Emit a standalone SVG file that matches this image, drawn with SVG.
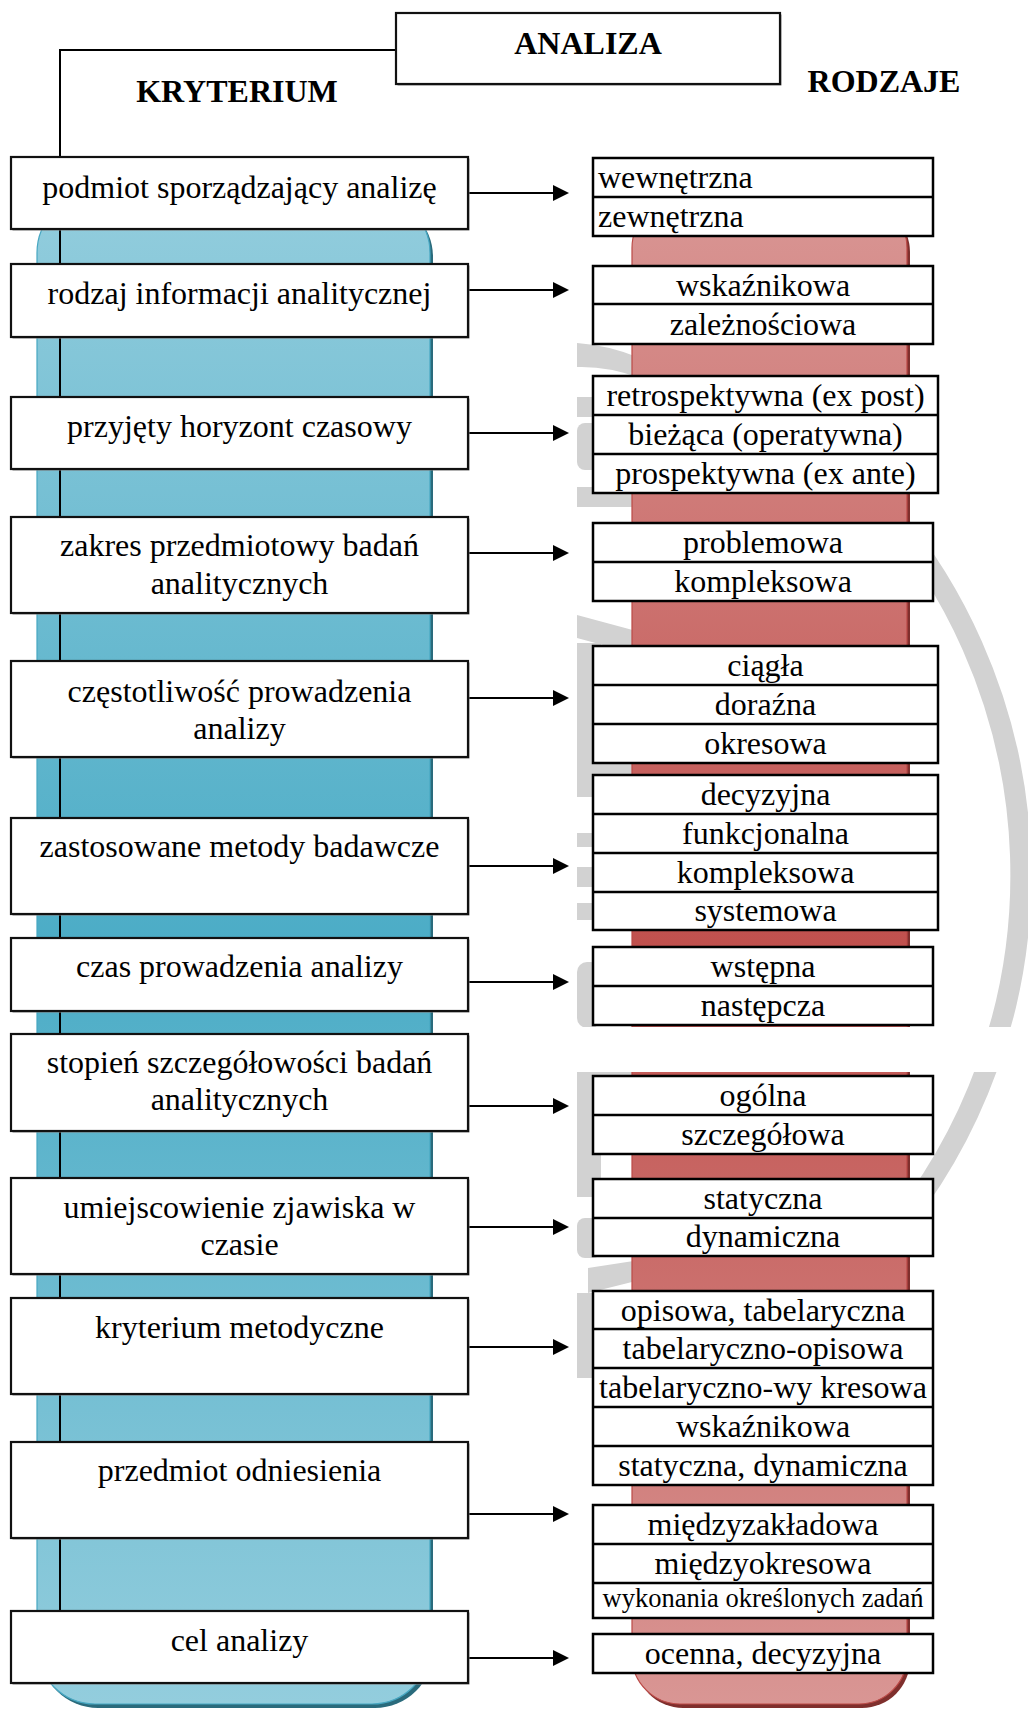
<svg xmlns="http://www.w3.org/2000/svg" width="1028" height="1711" viewBox="0 0 1028 1711">
<style>
.t{font-family:"Liberation Serif","Times New Roman",serif;font-size:32px;fill:#000}
.c{text-anchor:middle}
.b{font-weight:bold}
.lb{fill:#fff;stroke:#111;stroke-width:2.2}
.sh{fill:#8a8a8a}
.rb{fill:#fff;stroke:#000;stroke-width:2.5}
.dv{stroke:#000;stroke-width:2.5}
.wm{fill:#d2d2d2}
.cn{fill:none;stroke:#000;stroke-width:2}
</style>
<defs>
<linearGradient id="gb" x1="0" y1="0" x2="0" y2="1">
<stop offset="0" stop-color="#93cddd"/>
<stop offset="0.5" stop-color="#4bacc6"/>
<stop offset="1" stop-color="#93cddd"/>
</linearGradient>
<linearGradient id="gr" x1="0" y1="0" x2="0" y2="1">
<stop offset="0" stop-color="#d99694"/>
<stop offset="0.5" stop-color="#c0504d"/>
<stop offset="1" stop-color="#d99694"/>
</linearGradient>
<marker id="ah" markerUnits="userSpaceOnUse" markerWidth="16" markerHeight="16" refX="7" refY="8" orient="auto">
<path d="M0,0 L16,8 L0,16 Z" fill="#000"/>
</marker>
</defs>

<g id="watermark">
<path d="M860 480 A565 565 0 0 1 887 1240" fill="none" stroke="#d2d2d2" stroke-width="21"/>
<path class="wm" d="M577 343 Q608 345 640 358 L640 378 Q608 366 577 367 Z"/>
<rect class="wm" x="577" y="397" width="24" height="20"/>
<rect class="wm" x="577" y="423" width="24" height="47" rx="8"/>
<rect class="wm" x="577" y="487" width="63" height="20"/>
<path class="wm" d="M577 615 L640 632 L640 655 L577 638 Z"/>
<rect class="wm" x="577" y="643" width="24" height="150"/>
<rect class="wm" x="577" y="763" width="63" height="34"/>
<rect class="wm" x="577" y="833" width="24" height="14"/>
<rect class="wm" x="577" y="867" width="24" height="20"/>
<rect class="wm" x="577" y="903" width="24" height="17"/>
<rect class="wm" x="577" y="962" width="24" height="66" rx="10"/>
<rect class="wm" x="577" y="1070" width="63" height="12"/>
<rect class="wm" x="577" y="1082" width="24" height="115"/>
<rect class="wm" x="577" y="1218" width="24" height="40" rx="8"/>
<path class="wm" d="M588 1268 L640 1260 L640 1280 L588 1293 Z"/>
<rect class="wm" x="577" y="1293" width="24" height="85"/>
</g>

<g id="bars">
<rect x="40" y="199" width="393" height="1509" rx="58" fill="#2a6b7c"/>
<rect x="37" y="195" width="393" height="1509" rx="58" fill="url(#gb)" stroke="#47a7c2" stroke-width="1.2"/>
<rect x="635" y="204" width="275" height="1504" rx="48" fill="#7f2f2d"/>
<rect x="632" y="200" width="275" height="1504" rx="48" fill="url(#gr)" stroke="#bb4a47" stroke-width="1.2"/>
<rect x="572" y="1027" width="456" height="45" fill="#fff"/>
</g>

<g id="connectors">
<path class="cn" d="M396 50 H60 V1611"/>
<line class="cn" x1="468" y1="193" x2="560" y2="193" marker-end="url(#ah)"/>
<line class="cn" x1="468" y1="290" x2="560" y2="290" marker-end="url(#ah)"/>
<line class="cn" x1="468" y1="433" x2="560" y2="433" marker-end="url(#ah)"/>
<line class="cn" x1="468" y1="553" x2="560" y2="553" marker-end="url(#ah)"/>
<line class="cn" x1="468" y1="698" x2="560" y2="698" marker-end="url(#ah)"/>
<line class="cn" x1="468" y1="866" x2="560" y2="866" marker-end="url(#ah)"/>
<line class="cn" x1="468" y1="982" x2="560" y2="982" marker-end="url(#ah)"/>
<line class="cn" x1="468" y1="1106" x2="560" y2="1106" marker-end="url(#ah)"/>
<line class="cn" x1="468" y1="1227" x2="560" y2="1227" marker-end="url(#ah)"/>
<line class="cn" x1="468" y1="1347" x2="560" y2="1347" marker-end="url(#ah)"/>
<line class="cn" x1="468" y1="1514" x2="560" y2="1514" marker-end="url(#ah)"/>
<line class="cn" x1="468" y1="1658" x2="560" y2="1658" marker-end="url(#ah)"/>
</g>

<g id="title">
<rect class="sh" x="397.5" y="14.5" width="384" height="71"/>
<rect class="lb" x="396" y="13" width="384" height="71"/>
<text class="t b c" x="588" y="54">ANALIZA</text>
</g>
<g id="head-kryterium"><text class="t b c" x="237" y="102">KRYTERIUM</text></g>
<g id="head-rodzaje"><text class="t b c" x="884" y="92">RODZAJE</text></g>

<g id="k1"><rect class="sh" x="12.5" y="158.5" width="457" height="72"/><rect class="lb" x="11" y="157" width="457" height="72"/><text class="t c" x="239.5" y="198">podmiot sporządzający analizę</text></g>
<g id="k2"><rect class="sh" x="12.5" y="265.5" width="457" height="73"/><rect class="lb" x="11" y="264" width="457" height="73"/><text class="t c" x="239.5" y="304">rodzaj informacji analitycznej</text></g>
<g id="k3"><rect class="sh" x="12.5" y="398.5" width="457" height="72"/><rect class="lb" x="11" y="397" width="457" height="72"/><text class="t c" x="239.5" y="437">przyjęty horyzont czasowy</text></g>
<g id="k4"><rect class="sh" x="12.5" y="518.5" width="457" height="96"/><rect class="lb" x="11" y="517" width="457" height="96"/><text class="t c" x="239.5" y="556">zakres przedmiotowy badań</text><text class="t c" x="239.5" y="594">analitycznych</text></g>
<g id="k5"><rect class="sh" x="12.5" y="662.5" width="457" height="96"/><rect class="lb" x="11" y="661" width="457" height="96"/><text class="t c" x="239.5" y="702">częstotliwość prowadzenia</text><text class="t c" x="239.5" y="739">analizy</text></g>
<g id="k6"><rect class="sh" x="12.5" y="819.5" width="457" height="96"/><rect class="lb" x="11" y="818" width="457" height="96"/><text class="t c" x="239.5" y="857">zastosowane metody badawcze</text></g>
<g id="k7"><rect class="sh" x="12.5" y="939.5" width="457" height="73"/><rect class="lb" x="11" y="938" width="457" height="73"/><text class="t c" x="239.5" y="977">czas prowadzenia analizy</text></g>
<g id="k8"><rect class="sh" x="12.5" y="1035.5" width="457" height="97"/><rect class="lb" x="11" y="1034" width="457" height="97"/><text class="t c" x="239.5" y="1073">stopień szczegółowości badań</text><text class="t c" x="239.5" y="1110">analitycznych</text></g>
<g id="k9"><rect class="sh" x="12.5" y="1179.5" width="457" height="96"/><rect class="lb" x="11" y="1178" width="457" height="96"/><text class="t c" x="239.5" y="1218">umiejscowienie zjawiska w</text><text class="t c" x="239.5" y="1255">czasie</text></g>
<g id="k10"><rect class="sh" x="12.5" y="1299.5" width="457" height="96"/><rect class="lb" x="11" y="1298" width="457" height="96"/><text class="t c" x="239.5" y="1338">kryterium metodyczne</text></g>
<g id="k11"><rect class="sh" x="12.5" y="1443.5" width="457" height="96"/><rect class="lb" x="11" y="1442" width="457" height="96"/><text class="t c" x="239.5" y="1481">przedmiot odniesienia</text></g>
<g id="k12"><rect class="sh" x="12.5" y="1612.5" width="457" height="72"/><rect class="lb" x="11" y="1611" width="457" height="72"/><text class="t c" x="239.5" y="1651">cel analizy</text></g>

<g id="r1"><rect class="rb" x="593" y="158" width="340" height="78"/><line class="dv" x1="593" y1="197" x2="933" y2="197"/><text class="t" x="598" y="188">wewnętrzna</text><text class="t" x="598" y="227">zewnętrzna</text></g>
<g id="r2"><rect class="rb" x="593" y="266" width="340" height="78"/><line class="dv" x1="593" y1="304" x2="933" y2="304"/><text class="t c" x="763" y="296">wskaźnikowa</text><text class="t c" x="763" y="335">zależnościowa</text></g>
<g id="r3"><rect class="rb" x="593" y="376" width="345" height="117"/><line class="dv" x1="593" y1="415" x2="938" y2="415"/><line class="dv" x1="593" y1="454" x2="938" y2="454"/><text class="t c" x="765.5" y="406">retrospektywna (ex post)</text><text class="t c" x="765.5" y="445">bieżąca (operatywna)</text><text class="t c" x="765.5" y="484">prospektywna (ex ante)</text></g>
<g id="r4"><rect class="rb" x="593" y="523" width="340" height="78"/><line class="dv" x1="593" y1="562" x2="933" y2="562"/><text class="t c" x="763" y="553">problemowa</text><text class="t c" x="763" y="592">kompleksowa</text></g>
<g id="r5"><rect class="rb" x="593" y="646" width="345" height="117"/><line class="dv" x1="593" y1="685" x2="938" y2="685"/><line class="dv" x1="593" y1="724" x2="938" y2="724"/><text class="t c" x="765.5" y="676">ciągła</text><text class="t c" x="765.5" y="715">doraźna</text><text class="t c" x="765.5" y="754">okresowa</text></g>
<g id="r6"><rect class="rb" x="593" y="775" width="345" height="155"/><line class="dv" x1="593" y1="814" x2="938" y2="814"/><line class="dv" x1="593" y1="853" x2="938" y2="853"/><line class="dv" x1="593" y1="892" x2="938" y2="892"/><text class="t c" x="765.5" y="805">decyzyjna</text><text class="t c" x="765.5" y="844">funkcjonalna</text><text class="t c" x="765.5" y="883">kompleksowa</text><text class="t c" x="765.5" y="921">systemowa</text></g>
<g id="r7"><rect class="rb" x="593" y="947" width="340" height="78"/><line class="dv" x1="593" y1="986" x2="933" y2="986"/><text class="t c" x="763" y="977">wstępna</text><text class="t c" x="763" y="1016">następcza</text></g>
<g id="r8"><rect class="rb" x="593" y="1076" width="340" height="78"/><line class="dv" x1="593" y1="1115" x2="933" y2="1115"/><text class="t c" x="763" y="1106">ogólna</text><text class="t c" x="763" y="1145">szczegółowa</text></g>
<g id="r9"><rect class="rb" x="593" y="1179" width="340" height="77"/><line class="dv" x1="593" y1="1218" x2="933" y2="1218"/><text class="t c" x="763" y="1209">statyczna</text><text class="t c" x="763" y="1247">dynamiczna</text></g>
<g id="r10"><rect class="rb" x="593" y="1291" width="340" height="194"/><line class="dv" x1="593" y1="1329" x2="933" y2="1329"/><line class="dv" x1="593" y1="1368" x2="933" y2="1368"/><line class="dv" x1="593" y1="1407" x2="933" y2="1407"/><line class="dv" x1="593" y1="1446" x2="933" y2="1446"/><text class="t c" x="763" y="1321">opisowa, tabelaryczna</text><text class="t c" x="763" y="1359">tabelaryczno-opisowa</text><text class="t c" x="763" y="1398">tabelaryczno-wy kresowa</text><text class="t c" x="763" y="1437">wskaźnikowa</text><text class="t c" x="763" y="1476">statyczna, dynamiczna</text></g>
<g id="r11"><rect class="rb" x="593" y="1505" width="340" height="113"/><line class="dv" x1="593" y1="1544" x2="933" y2="1544"/><line class="dv" x1="593" y1="1583" x2="933" y2="1583"/><text class="t c" x="763" y="1535">międzyzakładowa</text><text class="t c" x="763" y="1574">międzyokresowa</text><text class="t c" x="763" y="1607" style="font-size:26.5px">wykonania określonych zadań</text></g>
<g id="r12"><rect class="rb" x="593" y="1634" width="340" height="39"/><text class="t c" x="763" y="1664">ocenna, decyzyjna</text></g>
</svg>
